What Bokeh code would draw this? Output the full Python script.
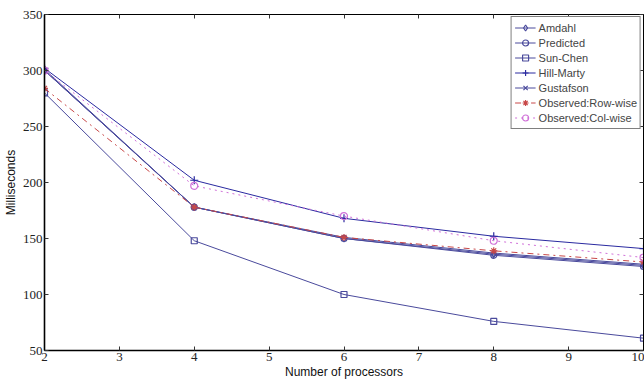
from bokeh.plotting import figure
from bokeh.models import LinearAxis, FixedTicker, Range1d, CustomJSTickFormatter
from bokeh.embed import file_html
from bokeh.resources import INLINE

processors = [2, 4, 6, 8, 10]
amdahl = [301, 178, 150, 136, 126]
predicted = [300, 178, 150, 135, 125]
sun_chen = [280, 148, 100, 76, 61]
hill_marty = [302, 202, 168, 152, 141]
gustafson = [300, 178, 151, 137, 127]
row_wise = [284, 178, 151, 139, 129]
col_wise = [300, 197, 170, 148, 133]

x_ticks = [2, 3, 4, 5, 6, 7, 8, 9, 10]
y_ticks = [50, 100, 150, 200, 250, 300, 350]

p = figure(width=644, height=381, output_backend="svg", toolbar_location=None,
           x_range=Range1d(2, 10), y_range=Range1d(50, 350),
           min_border_left=40, min_border_right=1, min_border_top=14, min_border_bottom=31,
           x_axis_label="Number of processors", y_axis_label="Milliseconds")
p.grid.visible = False
p.outline_line_color = "black"
p.outline_line_width = 1
p.background_fill_color = "white"
p.border_fill_color = "white"

for ax, ticks in ((p.xaxis[0], x_ticks), (p.yaxis[0], y_ticks)):
    ax.ticker = FixedTicker(ticks=ticks)
    ax.major_tick_in = 4
    ax.major_tick_out = 0
    ax.minor_tick_line_color = None
    ax.axis_line_width = 1.6
    ax.axis_line_color = "black"
    ax.major_tick_line_color = "#333333"
    ax.major_label_text_font = "Liberation Serif"
    ax.major_label_text_font_size = "13px"
    ax.major_label_text_color = "#222222"
    ax.axis_label_text_font = "Liberation Sans"
    ax.axis_label_text_font_size = "12px"
    ax.axis_label_text_font_style = "normal"
    ax.axis_label_text_color = "#111111"
p.xaxis[0].major_label_standoff = 2
p.xaxis[0].axis_label_standoff = 1
p.yaxis[0].major_label_standoff = 2
p.yaxis[0].axis_label_standoff = 2

for loc, ticks in (("above", x_ticks), ("right", y_ticks)):
    ax = LinearAxis(ticker=FixedTicker(ticks=ticks), major_tick_in=4, major_tick_out=0,
                    minor_tick_line_color=None,
                    formatter=CustomJSTickFormatter(code="return ''"),
                    major_label_standoff=0, axis_line_color="black",
                    major_tick_line_color="#333333")
    p.add_layout(ax, loc)

blue = "#4a4a9c"
series = [
    ("Amdahl", amdahl, blue, "solid", "diamond", 7),
    ("Predicted", predicted, blue, "solid", "circle", 6),
    ("Sun-Chen", sun_chen, blue, "solid", "square", 6),
    ("Hill-Marty", hill_marty, "#2a2aa0", "solid", "cross", 8),
    ("Gustafson", gustafson, blue, "solid", "x", 6),
    ("Observed:Row-wise", row_wise, "#c84848", "dashdot", "asterisk", 7),
    ("Observed:Col-wise", col_wise, "#d070d8", "dotted", "circle", 7),
]
for name, ys, col, dash, marker, size in series:
    p.line(processors, ys, line_color=col, line_width=1, line_dash=dash, legend_label=name)
    p.scatter(processors, ys, marker=marker, size=size, line_color=col, fill_color=None,
              line_width=1.2, legend_label=name)

lg = p.legend[0]
lg.location = "top_right"
lg.margin = 2
lg.padding = 3
lg.spacing = 0
lg.label_text_font = "Liberation Sans"
lg.label_text_font_size = "11px"
lg.label_height = 15
lg.glyph_height = 15
lg.glyph_width = 21
lg.label_standoff = 3
lg.border_line_color = "black"
lg.border_line_width = 1
lg.background_fill_alpha = 1

open("out.html", "w").write(file_html(p, INLINE))
